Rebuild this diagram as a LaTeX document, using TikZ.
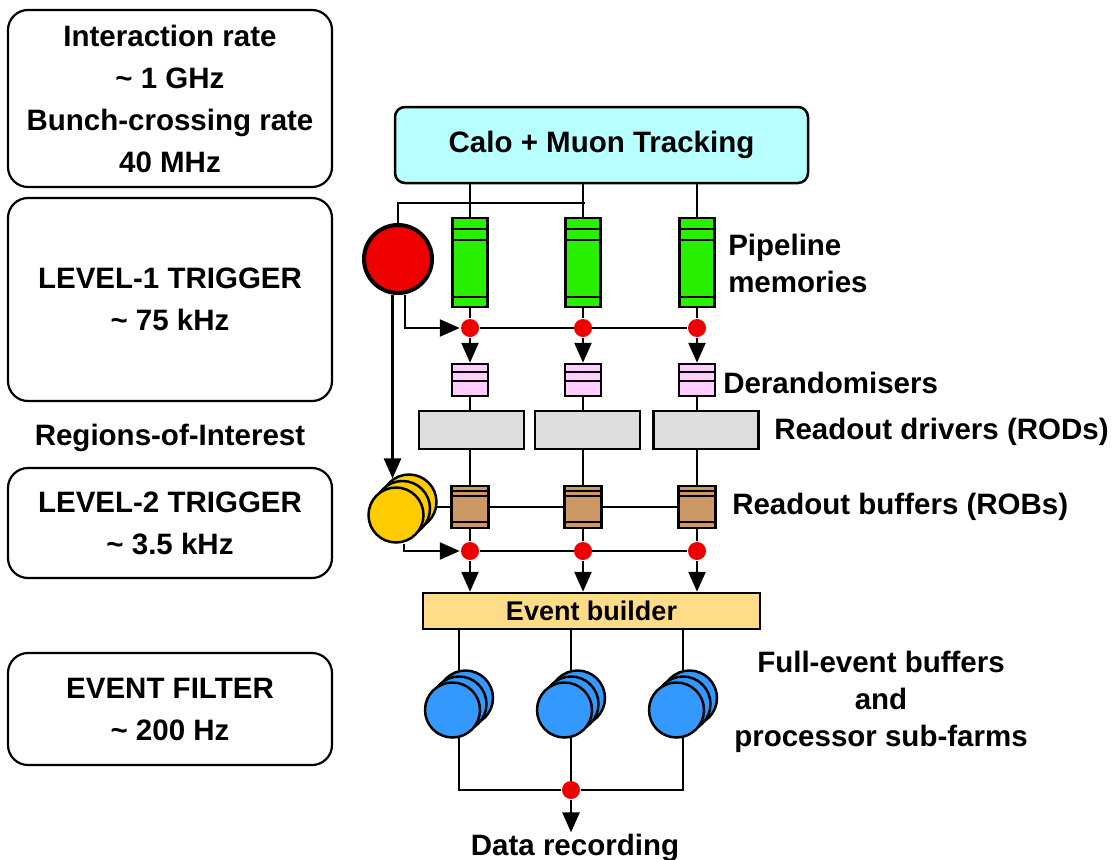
\documentclass[tikz,border=0pt]{standalone}
\usepackage{fontspec}
\setmainfont{Liberation Sans}
\usetikzlibrary{arrows.meta,backgrounds}
\definecolor{calocyan}{RGB}{184,255,255}
\definecolor{pipegreen}{RGB}{40,240,0}
\definecolor{lonered}{RGB}{238,0,0}
\definecolor{derandpink}{RGB}{255,204,255}
\definecolor{rodgray}{RGB}{221,221,221}
\definecolor{robbrown}{RGB}{204,153,102}
\definecolor{ltwoyellow}{RGB}{255,204,0}
\definecolor{evbyellow}{RGB}{255,221,136}
\definecolor{efblue}{RGB}{51,153,255}
\begin{document}
\begin{tikzpicture}[x=1pt, y=-1pt, line width=2.5pt,
    >={Triangle[length=20pt,width=17pt]},
    every node/.style={font=\bfseries\fontsize{29.5}{42}\selectfont},
    lbox/.style={draw, line width=2.2pt, rounded corners=20pt, minimum width=324pt, align=center, inner sep=0pt},
    lbl/.style={anchor=base west, inner sep=0pt},
    pipe/.style={draw, fill=pipegreen, minimum width=35pt, minimum height=89pt, inner sep=0pt,
      path picture={
        \foreach \d in {11,22}
          \draw[line width=2pt] ([yshift=-\d pt]path picture bounding box.north west) -- ([yshift=-\d pt]path picture bounding box.north east);
        \draw[line width=2pt] ([yshift=10pt]path picture bounding box.south west) -- ([yshift=10pt]path picture bounding box.south east);}},
    derand/.style={draw, fill=derandpink, minimum width=36pt, minimum height=32pt, inner sep=0pt,
      path picture={
        \foreach \d in {8,17}
          \draw[line width=2pt] ([yshift=-\d pt]path picture bounding box.north west) -- ([yshift=-\d pt]path picture bounding box.north east);}},
    rod/.style={draw, fill=rodgray, minimum width=105pt, minimum height=38pt, inner sep=0pt},
    rob/.style={draw, fill=robbrown, minimum width=37pt, minimum height=42pt, inner sep=0pt,
      path picture={
        \foreach \d in {5,10}
          \draw[line width=1.5pt] ([yshift=-\d pt]path picture bounding box.north west) -- ([yshift=-\d pt]path picture bounding box.north east);
        \draw[line width=1.5pt] ([yshift=6pt]path picture bounding box.south west) -- ([yshift=6pt]path picture bounding box.south east);}},
    dot/.style={circle, fill=lonered, minimum size=18pt, inner sep=0pt},
    ltwodisc/.style={draw, circle, fill=ltwoyellow, minimum size=55pt, inner sep=0pt},
    efdisc/.style={draw, circle, fill=efblue, minimum size=55pt, inner sep=0pt}]
  \useasboundingbox (0,0) rectangle (1115,859);

  % Rates and trigger levels
  \node[lbox, minimum height=177pt] (rates) at (170,98.5) {Interaction rate\\\textasciitilde\ 1 GHz\\Bunch-crossing rate\\40 MHz};
  \node[lbox, minimum height=203pt] (lvlone) at (170,299.5) {LEVEL-1 TRIGGER\\\textasciitilde\ 75 kHz};
  \node[anchor=base, inner sep=0pt] (roi) at (170,445) {Regions-of-Interest};
  \node[lbox, minimum height=110pt] (lvltwo) at (170,523) {LEVEL-2 TRIGGER\\\textasciitilde\ 3.5 kHz};
  \node[lbox, minimum height=112pt] (ef) at (170,709) {EVENT FILTER\\\textasciitilde\ 200 Hz};

  % Detector
  \node[draw, fill=calocyan, rounded corners=10pt, minimum width=413pt, minimum height=76pt] (calo) at (601.5,145) {Calo + Muon Tracking};

  % Level-1 processor
  \node[draw, circle, line width=4pt, fill=lonered, minimum size=68pt, inner sep=0pt] (l1) at (398,259) {};

  % Readout columns
  \foreach \i/\x in {1/470,2/583,3/697} {
    \node[pipe] (p\i) at (\x,262.5) {};
    \node[dot] (d\i) at (\x,328) {};
    \node[derand] (dr\i) at (\x,380) {};
    \node[rob] (rob\i) at (\x,507) {};
    \node[dot] (e\i) at (\x,551) {};
  }
  \foreach \i/\x in {1/471.5,2/587.5,3/706}
    \node[rod] (rod\i) at (\x,430) {};

  % Level-2 processors
  \node[ltwodisc] (l2c) at (409,502) {};
  \node[ltwodisc] (l2b) at (402.5,508.5) {};
  \node[ltwodisc] (l2a) at (396,515) {};

  % Event builder and sub-farms
  \node[draw, fill=evbyellow, minimum width=337pt, minimum height=36pt, inner sep=0pt, font=\bfseries\fontsize{27}{30}\selectfont] (evb) at (591.5,611) {Event builder};
  \foreach \i/\x in {1/452.5,2/564.5,3/676.5} {
    \node[efdisc] (fc\i) at (\x+13,698) {};
    \node[efdisc] (fb\i) at (\x+6.5,704) {};
    \node[efdisc] (fa\i) at (\x,710) {};
  }
  \node[dot] (rec) at (571,790) {};
  \node[anchor=base, inner sep=0pt] (datarec) at (575,855) {Data recording};

  % Labels
  \node[lbl] (pipelbl) at (727,255) {Pipeline};
  \node[lbl] (memlbl) at (727,292) {memories};
  \node[lbl] (derandlbl) at (722,393) {Derandomisers};
  \node[lbl] (rodlbl) at (773,439) {Readout drivers (RODs)};
  \node[lbl] (roblbl) at (731,514) {Readout buffers (ROBs)};
  \node[anchor=base, inner sep=0pt] (fulllbl) at (881,672) {Full-event buffers};
  \node[anchor=base, inner sep=0pt] (andlbl) at (881,709) {and};
  \node[anchor=base, inner sep=0pt] (farmlbl) at (881,746) {processor sub-farms};

  % Connections
  \begin{scope}[on background layer]
  \begin{scope}[line width=2.5pt]
    \coordinate (tap) at (585,203);
    \foreach \i in {1,2,3}
      \draw (calo.south -| p\i.north) -- (p\i.north);
    \draw (l1.north) |- (tap);
    \draw[->] ([xshift=7pt]l1.south) |- (d1.west);
    \draw (d1) -- (d3);
    \foreach \i in {1,2,3} {
      \draw (p\i.south) -- (d\i);
      \draw[->] (d\i.south) -- (dr\i.north);
      \draw (dr\i.south) -- (dr\i.south |- rod1.north);
      \draw (rob\i.north |- rod1.south) -- (rob\i.north);
      \draw (rob\i.south) -- (e\i);
      \draw[->] (e\i.south) -- (e\i.south |- evb.north);
      \draw (evb.south -| fb\i) |- (rec);
    }
    \draw[->] (l1.south -| l2c.125) -- (l2c.125);
    \draw (l2b.center |- rob1.center) -- (rob3.center);
    \draw[->] ([xshift=8pt]l2a.south) |- (e1.west);
    \draw (e1) -- (e3);
    \draw[->] (rec.south) -- (rec.south |- datarec.north);
  \end{scope}
  \end{scope}
\end{tikzpicture}
\end{document}
